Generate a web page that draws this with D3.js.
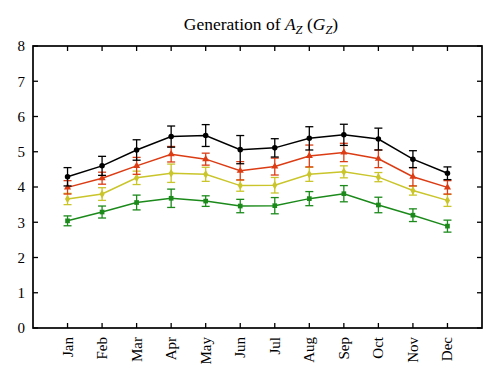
<!DOCTYPE html>
<html>
<head>
<meta charset="utf-8">
<script src="https://cdn.jsdelivr.net/npm/d3@7"></script>
<style>
  body { margin: 0; background: #fff; }
  text { font-family: "Liberation Serif", "DejaVu Serif", serif; }
</style>
</head>
<body>
<div id="chart"></div>
<script>
// month labels and the four series (mean + error half-width)
var months = ["Jan", "Feb", "Mar", "Apr", "May", "Jun", "Jul", "Aug", "Sep", "Oct", "Nov", "Dec"];

var blackVals = [4.29, 4.60, 5.05, 5.43, 5.46, 5.06, 5.11, 5.38, 5.48, 5.36, 4.79, 4.39];
var blackErr  = [0.26, 0.27, 0.29, 0.30, 0.31, 0.40, 0.26, 0.33, 0.30, 0.31, 0.24, 0.18];

var redVals = [3.99, 4.25, 4.60, 4.93, 4.79, 4.46, 4.58, 4.88, 4.98, 4.80, 4.29, 3.99];
var redErr  = [0.19, 0.17, 0.24, 0.22, 0.17, 0.26, 0.24, 0.31, 0.26, 0.25, 0.26, 0.19];

var yellowVals = [3.66, 3.80, 4.26, 4.39, 4.36, 4.04, 4.05, 4.36, 4.43, 4.28, 3.90, 3.62];
var yellowErr  = [0.16, 0.18, 0.19, 0.26, 0.20, 0.16, 0.22, 0.20, 0.17, 0.13, 0.13, 0.17];

var greenVals = [3.04, 3.29, 3.56, 3.68, 3.60, 3.46, 3.47, 3.67, 3.81, 3.49, 3.20, 2.89];
var greenErr  = [0.14, 0.17, 0.21, 0.26, 0.15, 0.19, 0.23, 0.20, 0.23, 0.22, 0.18, 0.17];

var yTicks = [0, 1, 2, 3, 4, 5, 6, 7, 8];

var series = [
  {vals: greenVals,  err: greenErr,  color: "#1b8a1b", sym: d3.symbolSquare,   size: 22},
  {vals: yellowVals, err: yellowErr, color: "#c9c52a", sym: d3.symbolDiamond,  size: 22},
  {vals: redVals,    err: redErr,    color: "#dc3c14", sym: d3.symbolTriangle, size: 22},
  {vals: blackVals,  err: blackErr,  color: "#000000", sym: d3.symbolCircle,   size: 24}
];

var W = 500, H = 385;
var margin = {top: 46, right: 18, bottom: 57, left: 33};
var width = W - margin.left - margin.right,
    height = H - margin.top - margin.bottom;

var svg = d3.select("#chart").append("svg")
    .attr("width", W).attr("height", H)
  .append("g")
    .attr("transform", "translate(" + margin.left + "," + margin.top + ")");

var x = d3.scaleLinear().domain([0, 13]).range([0, width]);
var y = d3.scaleLinear().domain([0, 8]).range([height, 0]);

// frame
svg.append("rect")
    .attr("width", width).attr("height", height)
    .attr("fill", "none").attr("stroke", "#000").attr("stroke-width", 1.7);

// inward ticks on all four sides
var monthIdx = d3.range(1, 13);
svg.append("g").selectAll("line.bt").data(monthIdx).enter().append("line")
    .attr("x1", d => x(d)).attr("x2", d => x(d))
    .attr("y1", height).attr("y2", height - 5)
    .attr("stroke", "#000").attr("stroke-width", 1.3);
svg.append("g").selectAll("line.tt").data(monthIdx).enter().append("line")
    .attr("x1", d => x(d)).attr("x2", d => x(d))
    .attr("y1", 0).attr("y2", 5)
    .attr("stroke", "#000").attr("stroke-width", 1.3);
svg.append("g").selectAll("line.lt").data(yTicks).enter().append("line")
    .attr("x1", 0).attr("x2", 5)
    .attr("y1", d => y(d)).attr("y2", d => y(d))
    .attr("stroke", "#000").attr("stroke-width", 1.3);
svg.append("g").selectAll("line.rt").data(yTicks).enter().append("line")
    .attr("x1", width).attr("x2", width - 5)
    .attr("y1", d => y(d)).attr("y2", d => y(d))
    .attr("stroke", "#000").attr("stroke-width", 1.3);

// y labels
svg.append("g").selectAll("text").data(yTicks).enter().append("text")
    .attr("x", -8).attr("y", d => y(d))
    .attr("dy", "0.35em")
    .attr("text-anchor", "end")
    .style("font-size", "15px")
    .text(d => d);

// month labels, rotated
svg.append("g").selectAll("text").data(months).enter().append("text")
    .attr("transform", (d, i) => "translate(" + (x(i + 1) + 5) + "," + (height + 9) + ") rotate(-90)")
    .attr("text-anchor", "end")
    .style("font-size", "15px")
    .text(d => d);

// series: lines, error bars, markers
var line = d3.line().x((d, i) => x(i + 1)).y(d => y(d));

series.forEach(function(s) {
  var g = svg.append("g");
  g.append("path")
      .datum(s.vals)
      .attr("fill", "none")
      .attr("stroke", s.color)
      .attr("stroke-width", 1.5)
      .attr("d", line);

  var eb = g.selectAll("g.eb").data(s.vals).enter().append("g");
  eb.append("line")
      .attr("x1", (d, i) => x(i + 1)).attr("x2", (d, i) => x(i + 1))
      .attr("y1", (d, i) => y(d - s.err[i])).attr("y2", (d, i) => y(d + s.err[i]))
      .attr("stroke", s.color).attr("stroke-width", 1.3);
  [-1, 1].forEach(function(sg) {
    eb.append("line")
        .attr("x1", (d, i) => x(i + 1) - 4).attr("x2", (d, i) => x(i + 1) + 4)
        .attr("y1", (d, i) => y(d + sg * s.err[i])).attr("y2", (d, i) => y(d + sg * s.err[i]))
        .attr("stroke", s.color).attr("stroke-width", 1.3);
  });

  g.selectAll("path.pt").data(s.vals).enter().append("path")
      .attr("d", d3.symbol().type(s.sym).size(s.size))
      .attr("transform", (d, i) => "translate(" + x(i + 1) + "," + y(d) + ")")
      .attr("fill", s.color);
});

// title with italic A and subscripts
var title = d3.select("svg").append("text")
    .attr("x", 261).attr("y", 30)
    .attr("text-anchor", "middle")
    .style("font-size", "17.5px");
title.append("tspan").text("Generation of ");
title.append("tspan").style("font-style", "italic").text("A");
title.append("tspan").attr("dy", 4).style("font-size", "12.5px").style("font-style", "italic").text("Z");
title.append("tspan").attr("dy", -4).text(" (");
title.append("tspan").style("font-style", "italic").text("G");
title.append("tspan").attr("dy", 4).style("font-size", "12.5px").style("font-style", "italic").text("Z");
title.append("tspan").attr("dy", -4).text(")");
</script>
</body>
</html>
